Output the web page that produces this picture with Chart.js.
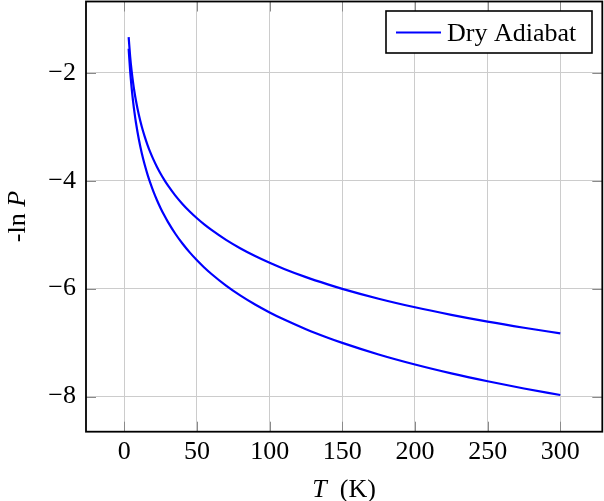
<!DOCTYPE html>
<html>
<head>
<meta charset="utf-8">
<script src="https://cdn.jsdelivr.net/npm/chart.js@4.4.0/dist/chart.umd.min.js"></script>
<style>
  html, body { margin: 0; padding: 0; background: #fff; }
  canvas { display: block; }
</style>
</head>
<body>
<canvas id="grafico" width="604" height="501"></canvas>
<script>
// Temperaturas (K) onde as curvas foram lidas
const temperaturas = [3, 4, 5, 6, 7, 8, 10, 12, 14, 16, 18, 20, 22.5, 25, 27.5, 30, 35, 40, 45, 50, 55, 60, 70, 80, 90, 100, 110, 125, 140, 150, 175, 200, 225, 250, 275, 300];

// -ln P da curva de cima e da curva de baixo
const curvaSuperior = [-1.340, -1.690, -1.955, -2.172, -2.356, -2.514, -2.780, -2.997, -3.180, -3.339, -3.480, -3.605, -3.745, -3.870, -3.984, -4.087, -4.271, -4.430, -4.570, -4.695, -4.809, -4.912, -5.096, -5.255, -5.395, -5.520, -5.634, -5.786, -5.920, -6.003, -6.186, -6.345, -6.485, -6.611, -6.724, -6.828];
const curvaInferior = [-1.555, -1.956, -2.267, -2.521, -2.736, -2.922, -3.233, -3.487, -3.701, -3.887, -4.051, -4.198, -4.362, -4.509, -4.642, -4.763, -4.978, -5.164, -5.328, -5.474, -5.607, -5.728, -5.943, -6.129, -6.293, -6.440, -6.573, -6.751, -6.909, -7.005, -7.220, -7.406, -7.570, -7.716, -7.849, -7.970];

const ticksX = [0, 50, 100, 150, 200, 250, 300];
const ticksY = [-2, -4, -6, -8];
const rotuloLegenda = 'Dry Adiabat';

const FONTE = "'Liberation Serif', 'Times New Roman', serif";
const AZUL = '#0000ff';

const pontos = (ys) => temperaturas.map((t, i) => ({ x: t, y: ys[i] }));
const formatar = (v) => (v < 0 ? '\u2212' + Math.abs(v) : String(v));

// Moldura, marcas internas, legenda e títulos dos eixos (estilo pgfplots)
const pluginMoldura = {
    id: 'moldura',
    afterDraw(chart) {
        const { ctx, chartArea: a, scales } = chart;
        ctx.save();

        // marcas de tick para dentro, nos quatro lados
        ctx.strokeStyle = '#8a8a8a';
        ctx.lineWidth = 1;
        ctx.beginPath();
        ticksX.forEach(v => {
            const x = Math.round(scales.x.getPixelForValue(v)) + 0.5;
            ctx.moveTo(x, a.bottom); ctx.lineTo(x, a.bottom - 10);
            ctx.moveTo(x, a.top); ctx.lineTo(x, a.top + 10);
        });
        ticksY.forEach(v => {
            const y = Math.round(scales.y.getPixelForValue(v)) + 0.5;
            ctx.moveTo(a.left, y); ctx.lineTo(a.left + 10, y);
            ctx.moveTo(a.right, y); ctx.lineTo(a.right - 10, y);
        });
        ctx.stroke();

        // moldura preta
        ctx.strokeStyle = '#000';
        ctx.lineWidth = 1.8;
        ctx.strokeRect(a.left, a.top, a.right - a.left, a.bottom - a.top);

        // legenda
        ctx.fillStyle = '#fff';
        ctx.fillRect(386, 11, 206, 42);
        ctx.lineWidth = 1.6;
        ctx.strokeRect(386, 11, 206, 42);
        ctx.strokeStyle = AZUL;
        ctx.lineWidth = 2.2;
        ctx.beginPath();
        ctx.moveTo(396, 32.5); ctx.lineTo(441, 32.5);
        ctx.stroke();
        ctx.fillStyle = '#000';
        ctx.font = '26px ' + FONTE;
        ctx.textBaseline = 'alphabetic';
        ctx.textAlign = 'left';
        ctx.fillText(rotuloLegenda, 447, 40.5);

        // título do eixo x: T (K)
        const italico = 'italic 26px ' + FONTE;
        const normal = '26px ' + FONTE;
        ctx.font = italico;
        const wT = ctx.measureText('T').width;
        ctx.font = normal;
        const wK = ctx.measureText('\u2002(K)').width;
        const x0 = (a.left + a.right) / 2 - (wT + wK) / 2;
        ctx.font = italico;
        ctx.fillText('T', x0, 496.5);
        ctx.font = normal;
        ctx.fillText('\u2002(K)', x0 + wT, 496.5);

        // título do eixo y: -ln P
        ctx.translate(25, (a.top + a.bottom) / 2);
        ctx.rotate(-Math.PI / 2);
        ctx.font = normal;
        const wLn = ctx.measureText('-ln ').width;
        ctx.font = italico;
        const wP = ctx.measureText('P').width;
        const y0 = -(wLn + wP) / 2;
        ctx.font = normal;
        ctx.fillText('-ln ', y0, 0);
        ctx.font = italico;
        ctx.fillText('P', y0 + wLn, 0);

        ctx.restore();
    }
};

// zera o espaço que o Chart.js reserva para meio rótulo nas pontas
const semMargem = (s) => {
    s.paddingTop = 0;
    s.paddingBottom = 0;
    s.paddingLeft = 0;
    s.paddingRight = 0;
};

new Chart(document.getElementById('grafico'), {
    type: 'scatter',
    data: {
        datasets: [
            { label: rotuloLegenda, data: pontos(curvaSuperior) },
            { label: rotuloLegenda, data: pontos(curvaInferior) }
        ].map(d => ({
            ...d,
            showLine: true,
            borderColor: AZUL,
            backgroundColor: AZUL,
            borderWidth: 2.2,
            pointRadius: 0,
            cubicInterpolationMode: 'monotone'
        }))
    },
    options: {
        responsive: false,
        animation: false,
        layout: { padding: { top: 1.5, right: 1.7, left: 0, bottom: 0 } },
        plugins: {
            legend: { display: false },
            tooltip: { enabled: false }
        },
        scales: {
            x: {
                type: 'linear',
                min: -26.35,
                max: 328.9,
                afterBuildTicks: s => { s.ticks = ticksX.map(v => ({ value: v })); },
                afterFit: s => { s.height = 69.3; semMargem(s); },
                ticks: {
                    includeBounds: false,
                    padding: 5,
                    color: '#000',
                    font: { family: FONTE, size: 26 },
                    maxRotation: 0,
                    callback: formatar
                },
                grid: { color: '#cccccc', lineWidth: 1, drawTicks: false },
                border: { display: false }
            },
            y: {
                type: 'linear',
                min: -8.65,
                max: -0.68,
                afterBuildTicks: s => { s.ticks = ticksY.map(v => ({ value: v })); },
                afterFit: s => { s.width = 86; semMargem(s); },
                ticks: {
                    includeBounds: false,
                    padding: 10,
                    color: '#000',
                    font: { family: FONTE, size: 26 },
                    callback: formatar
                },
                grid: { color: '#cccccc', lineWidth: 1, drawTicks: false },
                border: { display: false }
            }
        }
    },
    plugins: [pluginMoldura]
});
</script>
</body>
</html>
